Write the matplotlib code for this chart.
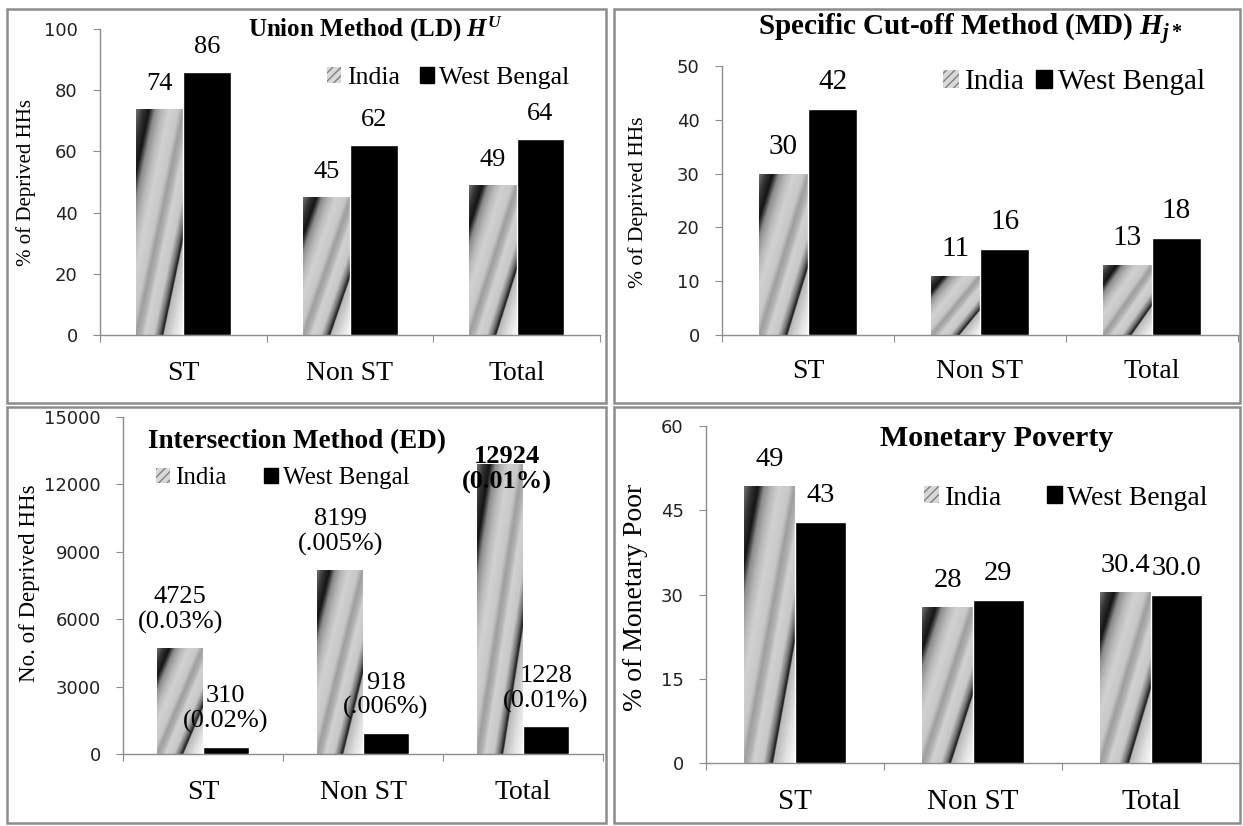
import numpy as np
import matplotlib
matplotlib.use('Agg')
from matplotlib import pyplot as plt
from matplotlib.patches import Patch, Rectangle

plt.rcParams['font.family'] = ['Liberation Serif', 'DejaVu Serif']
plt.rcParams['mathtext.fontset'] = 'custom'
plt.rcParams['mathtext.rm'] = 'Liberation Serif:bold'
plt.rcParams['mathtext.it'] = 'Liberation Serif:italic:bold'
plt.rcParams['mathtext.bf'] = 'Liberation Serif:bold'

#%%# data #%%#
categories = ['ST', 'Non ST', 'Total']
series = ['India', 'West Bengal']

unionIndia = [74, 45, 49]
unionWB = [86, 62, 64]

cutoffIndia = [30, 11, 13]
cutoffWB = [42, 16, 18]

interIndia = [4725, 8199, 12924]
interWB = [310, 918, 1228]
interIndiaPct = ['(0.03%)', '(.005%)', '(0.01%)']
interWBPct = ['(0.02%)', '(.006%)', '(0.01%)']

monIndia = [49.4, 27.8, 30.4]
monWB = [42.9, 29.1, 30.0]
monIndiaLbl = ['49', '28', '30.4']
monWBLbl = ['43', '29', '30.0']

#%%# layout helpers (pixel based) #%%#
W, H = 1243, 826
fig = plt.figure(figsize=(W/100, H/100), dpi=100)

def axRect(x0, x1, y0, ytop):
    return [x0/W, 1 - y0/H, (x1 - x0)/W, (y0 - ytop)/H]

def figText(x, y, s, **kw):
    fig.text(x/W, 1 - y/H, s, ha='center', va='center', **kw)

# panel frames
for (x0, y0, x1, y1) in [(7, 9, 606, 403), (614, 9, 1240, 403),
                         (7, 407, 606, 823), (614, 407, 1240, 823)]:
    fig.patches.append(Rectangle((x0/W, 1 - y1/H), (x1 - x0)/W, (y1 - y0)/H,
                                 transform=fig.transFigure, fill=False,
                                 edgecolor='#8c8c8c', linewidth=1.8))

# diagonal "chrome" gradient used for the India bars (normalised bar coords)
gu = [-1.00, -0.85, -0.72, -0.66, -0.60, -0.45, -0.30, -0.10, 0.00, 0.10, 0.18,
      0.37, 0.48, 0.56, 0.58, 0.80, 1.00]
gv = [0.45, 0.20, 0.08, 0.30, 0.55, 0.72, 0.82, 0.78, 0.62, 0.70, 0.82,
      0.78, 0.45, 0.08, 0.72, 0.88, 0.98]
rr, ss = np.mgrid[0:1:300j, 0:1:80j]
grad = np.interp(ss - rr, gu, gv)

barW = 0.285

def drawPanel(rect, india, wb, ymax, yticks, lblI, lblW, lblSize, catSize, catPad,
              legAnchor, legSize, colSpace, tickSize=13):
    ax = fig.add_axes(rect)
    x = np.arange(len(categories))
    barsI = ax.bar(x - barW/2, india, barW, color='#d0d0d0', linewidth=0, zorder=2)
    barsW = ax.bar(x + barW/2, wb, barW, color='black', edgecolor='white',
                   linewidth=1, zorder=3)
    for p in barsI:
        x0, bw, h = p.get_x(), p.get_width(), p.get_height()
        im = ax.imshow(grad, extent=(x0, x0 + bw, 0, h), origin='lower', cmap='gray',
                       vmin=0, vmax=1, aspect='auto', interpolation='bilinear', zorder=2.5)
        im.set_clip_path(p)
    ax.set_xlim(-0.5, len(categories) - 0.5)
    ax.set_ylim(0, ymax)

    # axes styling
    for sp in ['top', 'right']:
        ax.spines[sp].set_visible(False)
    for sp in ['left', 'bottom']:
        ax.spines[sp].set_color('#8c8c8c')
        ax.spines[sp].set_linewidth(1.0)
    ax.set_yticks(yticks)
    ax.tick_params(axis='y', length=5, color='#8c8c8c', pad=11, labelsize=tickSize,
                   labelfontfamily='DejaVu Sans', labelcolor='#222222')
    ax.set_xticks(np.arange(len(categories) + 1) - 0.5)
    ax.set_xticklabels([])
    ax.tick_params(axis='x', which='major', length=5, color='#8c8c8c')
    ax.set_xticks(x, minor=True)
    ax.set_xticklabels(categories, minor=True, fontsize=catSize)
    ax.tick_params(axis='x', which='minor', length=0, pad=catPad)

    # data labels
    for bars, lbls in [(barsI, lblI), (barsW, lblW)]:
        for p, s in zip(bars, lbls):
            ax.annotate(s, xy=(p.get_x() + p.get_width()/2, p.get_height()),
                        xytext=(0, 10), textcoords='offset points', ha='center',
                        va='bottom', fontsize=lblSize, zorder=5, linespacing=1.15)

    handles = [Patch(facecolor='#d8d8d8', edgecolor='#808080', hatch='////', linewidth=0),
               Patch(facecolor='black', edgecolor='black')]
    ax.legend(handles, series, loc='center', bbox_to_anchor=legAnchor, ncol=2,
              frameon=False, fontsize=legSize, handlelength=0.55, handleheight=0.55,
              handletextpad=0.2, columnspacing=colSpace, borderaxespad=0)
    return ax, barsI, barsW

#%%# Union method #%%#
drawPanel(axRect(100, 600, 335, 29), unionIndia, unionWB, 100, range(0, 101, 20),
          [str(v) for v in unionIndia], [str(v) for v in unionWB], 19, 20, 19,
          (0.697, 0.84), 18.5, 0.8)
figText(376, 29, 'Union Method (LD) $H^{U}$', fontsize=18, fontweight='bold')
figText(26, 182, '% of Deprived HHs', fontsize=15, rotation=90)

#%%# Specific cut-off method #%%#
drawPanel(axRect(722, 1238, 335, 66), cutoffIndia, cutoffWB, 50, range(0, 51, 10),
          [str(v) for v in cutoffIndia], [str(v) for v in cutoffWB], 21, 20, 17,
          (0.682, 0.94), 21, 0.4)
figText(970, 30, 'Specific Cut-off Method (MD) $H_{j*}$', fontsize=21, fontweight='bold')
figText(638, 202, '% of Deprived HHs', fontsize=15.5, rotation=90)

#%%# Intersection method #%%#
lblI = [f'{v}\n{p}' for v, p in zip(interIndia, interIndiaPct)]
lblW = [f'{v}\n{p}' for v, p in zip(interWB, interWBPct)]
ax3, bI3, bW3 = drawPanel(axRect(123, 603, 754, 417), interIndia, interWB, 15000,
                          range(0, 15001, 3000), lblI, lblW, 19, 20, 19,
                          (0.333, 0.819), 18, 1.5)
# label of the tallest bar does not fit above it: put it on the bar top in bold
top = ax3.texts[len(categories) - 1]
top.set_fontweight('bold')
top.set_va('center')
top.xyann = (5, -4)
figText(297, 442, 'Intersection Method (ED)', fontsize=19.5, fontweight='bold')
figText(30, 583, 'No. of Deprived HHs', fontsize=16.5, rotation=90)

#%%# Monetary poverty #%%#
drawPanel(axRect(706, 1240, 763, 426), monIndia, monWB, 60, range(0, 61, 15),
          monIndiaLbl, monWBLbl, 20.5, 21, 19, (0.674, 0.786), 20, 1.6)
figText(997, 438, 'Monetary Poverty', fontsize=21.5, fontweight='bold')
figText(636, 597, '% of Monetary Poor', fontsize=20, rotation=90)

fig.savefig('out.png', dpi=100)
